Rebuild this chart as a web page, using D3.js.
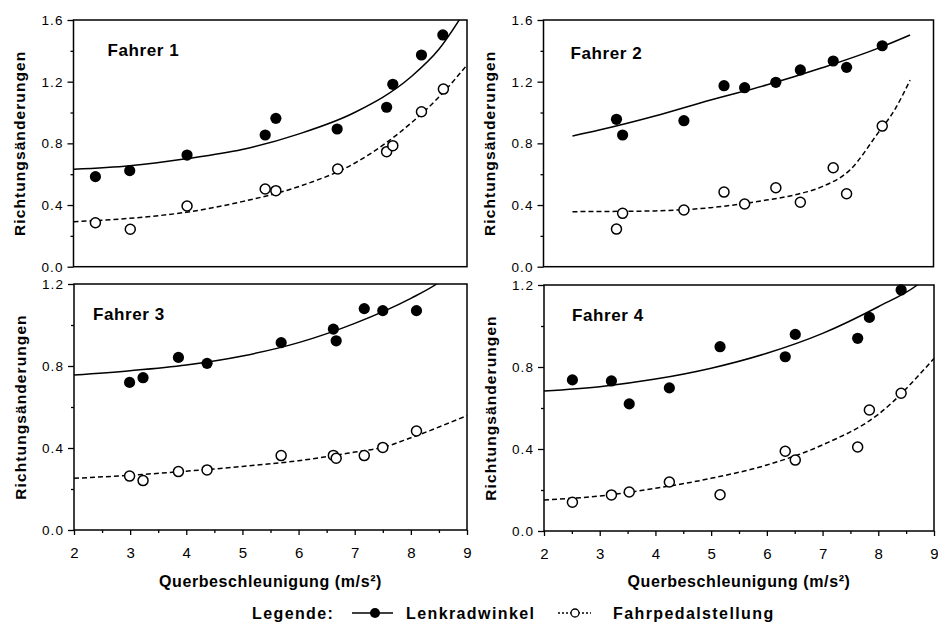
<!DOCTYPE html>
<html>
<head>
<meta charset="utf-8">
<script src="https://cdn.jsdelivr.net/npm/d3@7"></script>
<style>
  body { margin: 0; background: #fff; }
  svg { display: block; }
  text { font-family: "Liberation Sans", Arial, sans-serif; fill: #000; }
</style>
</head>
<body>
<svg width="938" height="623"></svg>
<script>
// panel titles and axis ranges
const drivers = ["Fahrer 1", "Fahrer 2", "Fahrer 3", "Fahrer 4"];
const yMax = [1.6, 1.6, 1.2, 1.2];
const xTicks = [2, 3, 4, 5, 6, 7, 8, 9];

// measured points: [Querbeschleunigung, Richtungsänderungen]
const lenk1 = [[2.39,0.584],[3.0,0.623],[4.02,0.724],[5.41,0.854],[5.60,0.962],[6.69,0.893],[7.57,1.034],[7.68,1.183],[8.19,1.373],[8.57,1.503]];
const pedal1 = [[2.39,0.285],[3.01,0.243],[4.02,0.394],[5.41,0.504],[5.60,0.493],[6.70,0.634],[7.57,0.746],[7.68,0.785],[8.19,1.005],[8.58,1.152]];
const lenk2 = [[3.31,0.956],[3.42,0.854],[4.52,0.947],[5.24,1.174],[5.61,1.161],[6.17,1.196],[6.61,1.276],[7.20,1.334],[7.44,1.293],[8.08,1.433]];
const pedal2 = [[3.31,0.244],[3.42,0.346],[4.52,0.368],[5.24,0.484],[5.61,0.407],[6.17,0.512],[6.61,0.418],[7.20,0.642],[7.44,0.473],[8.08,0.912]];
const lenk3 = [[2.99,0.720],[3.23,0.743],[3.86,0.842],[4.37,0.813],[5.69,0.914],[6.62,0.980],[6.67,0.923],[7.17,1.080],[7.50,1.070],[8.10,1.070]];
const pedal3 = [[2.99,0.263],[3.23,0.241],[3.86,0.285],[4.37,0.293],[5.69,0.363],[6.62,0.364],[6.67,0.350],[7.17,0.363],[7.50,0.403],[8.10,0.483]];
const lenk4 = [[2.51,0.737],[3.21,0.732],[3.53,0.620],[4.25,0.698],[5.16,0.899],[6.33,0.850],[6.51,0.959],[7.63,0.940],[7.84,1.042],[8.41,1.176]];
const pedal4 = [[2.51,0.140],[3.21,0.176],[3.53,0.190],[4.25,0.239],[5.16,0.177],[6.33,0.389],[6.51,0.346],[7.63,0.410],[7.84,0.590],[8.41,0.672]];

// fitted trend curves
const lenkFit1 = [[2,0.632],[3,0.655],[4,0.70],[5,0.76],[6,0.86],[7,1.0],[8,1.23],[8.5,1.41],[9,1.68]];
const pedalFit1 = [[2,0.292],[3,0.314],[4,0.353],[5,0.422],[6,0.519],[7,0.671],[8,0.93],[8.5,1.10],[9,1.308]];
const lenkFit2 = [[2.52,0.848],[3,0.886],[4,0.977],[5,1.081],[6,1.178],[7,1.29],[8,1.416],[8.58,1.503]];
const pedalFit2 = [[2.52,0.357],[3,0.358],[4,0.362],[5,0.383],[6,0.432],[6.5,0.465],[7,0.519],[7.5,0.627],[8,0.865],[8.3,1.016],[8.58,1.21]];
const lenkFit3 = [[2,0.756],[3,0.777],[4,0.805],[5,0.849],[6,0.914],[7,1.008],[8,1.13],[8.46,1.2],[9,1.32]];
const pedalFit3 = [[2,0.252],[3,0.267],[4,0.287],[5,0.31],[6,0.338],[7,0.38],[7.5,0.403],[8,0.45],[9,0.558]];
const lenkFit4 = [[2,0.683],[3,0.704],[4,0.741],[5,0.794],[6,0.867],[7,0.964],[8,1.094],[8.7,1.2],[9,1.27]];
const pedalFit4 = [[2,0.151],[3,0.171],[4,0.208],[5,0.257],[6,0.322],[7,0.42],[8,0.569],[9,0.842]];

const lenkSets = [lenk1, lenk2, lenk3, lenk4];
const pedalSets = [pedal1, pedal2, pedal3, pedal4];
const lenkFits = [lenkFit1, lenkFit2, lenkFit3, lenkFit4];
const pedalFits = [pedalFit1, pedalFit2, pedalFit3, pedalFit4];

// panel boxes in pixels
const boxes = [
  { l: 73.5, r: 467, t: 20, b: 266.7, lx: 34, ly: 56, xAxis: false },
  { l: 543.5, r: 933.5, t: 20, b: 266.7, lx: 27, ly: 59, xAxis: false },
  { l: 74, r: 467, t: 284, b: 530, lx: 19, ly: 320, xAxis: true },
  { l: 544, r: 934, t: 285, b: 531, lx: 28, ly: 321, xAxis: true }
];

const svg = d3.select("svg");
svg.append("rect").attr("width", 938).attr("height", 623).attr("fill", "#fff");

boxes.forEach((p, i) => {
  const x = d3.scaleLinear().domain([2, 9]).range([p.l, p.r]);
  const y = d3.scaleLinear().domain([0, yMax[i]]).range([p.b, p.t]);
  const g = svg.append("g");

  const clipId = "clip" + i;
  svg.append("clipPath").attr("id", clipId)
    .append("rect").attr("x", p.l).attr("y", p.t)
    .attr("width", p.r - p.l).attr("height", p.b - p.t);

  // y axis: major ticks with labels, minor ticks between
  const major = d3.range(0, yMax[i] + 0.01, 0.4);
  const minor = d3.range(0.2, yMax[i], 0.4);
  g.append("g").attr("transform", `translate(${p.l},0)`)
    .call(d3.axisLeft(y).tickValues(minor).tickSize(3).tickFormat(""))
    .call(a => a.select(".domain").remove());
  g.append("g").attr("transform", `translate(${p.l},0)`)
    .call(d3.axisLeft(y).tickValues(major).tickSize(6).tickPadding(4).tickFormat(d3.format(".1f")))
    .call(a => a.select(".domain").remove())
    .call(a => a.selectAll("text")
      .style("font-size", "13.5px").style("letter-spacing", "1.1px")
      .style("font-family", "Liberation Sans, Arial, sans-serif"));
  g.selectAll(".tick line").attr("stroke", "#000").attr("stroke-width", 1.3);

  if (p.xAxis) {
    g.append("g").attr("transform", `translate(0,${p.b})`)
      .call(d3.axisBottom(x).tickValues(d3.range(2.5, 9, 1)).tickSize(3).tickFormat(""))
      .call(a => a.select(".domain").remove());
    g.append("g").attr("transform", `translate(0,${p.b})`)
      .call(d3.axisBottom(x).tickValues(xTicks).tickSize(5).tickPadding(12).tickFormat(d3.format("d")))
      .call(a => a.select(".domain").remove())
      .call(a => a.selectAll("text")
        .style("font-size", "15px")
        .style("font-family", "Liberation Sans, Arial, sans-serif"));
    g.selectAll(".tick line").attr("stroke", "#000").attr("stroke-width", 1.3);

    g.append("text")
      .attr("x", (p.l + p.r) / 2).attr("y", 587)
      .attr("text-anchor", "middle")
      .style("font-size", "16px").style("font-weight", "bold").style("letter-spacing", "0.6px")
      .text("Querbeschleunigung (m/s²)");
  }

  // frame
  g.append("rect")
    .attr("x", p.l).attr("y", p.t)
    .attr("width", p.r - p.l).attr("height", p.b - p.t)
    .attr("fill", "none").attr("stroke", "#000").attr("stroke-width", 1.5);

  // y title
  g.append("text")
    .attr("transform", `translate(${p.l - 53},${(p.t + p.b) / 2}) rotate(-90)`)
    .attr("dy", "0.3em")
    .attr("text-anchor", "middle")
    .style("font-size", "15.5px").style("font-weight", "bold").style("letter-spacing", "1.1px")
    .text("Richtungsänderungen");

  // driver label
  g.append("text")
    .attr("x", p.l + p.lx).attr("y", p.ly)
    .style("font-size", "17px").style("font-weight", "bold").style("letter-spacing", "0.6px")
    .text(drivers[i]);

  const line = d3.line()
    .x(d => x(d[0])).y(d => y(d[1]))
    .curve(d3.curveMonotoneX);

  const curves = g.append("g").attr("clip-path", `url(#${clipId})`);
  curves.append("path").datum(lenkFits[i])
    .attr("d", line).attr("fill", "none")
    .attr("stroke", "#000").attr("stroke-width", 1.5);
  curves.append("path").datum(pedalFits[i])
    .attr("d", line).attr("fill", "none")
    .attr("stroke", "#000").attr("stroke-width", 1.5)
    .attr("stroke-dasharray", "5,3");

  g.append("g").selectAll("circle")
    .data(pedalSets[i]).join("circle")
    .attr("cx", d => x(d[0])).attr("cy", d => y(d[1]))
    .attr("r", 5).attr("fill", "#fff")
    .attr("stroke", "#000").attr("stroke-width", 1.5);

  g.append("g").selectAll("circle")
    .data(lenkSets[i]).join("circle")
    .attr("cx", d => x(d[0])).attr("cy", d => y(d[1]))
    .attr("r", 5.6).attr("fill", "#000");
});

// legend
const leg = svg.append("g");
const legY = 613;
leg.append("text").attr("x", 252).attr("y", legY + 6)
  .style("font-size", "16px").style("font-weight", "bold").style("letter-spacing", "1.4px")
  .text("Legende:");
leg.append("line").attr("x1", 352).attr("x2", 393).attr("y1", legY).attr("y2", legY)
  .attr("stroke", "#000").attr("stroke-width", 1.5);
leg.append("circle").attr("cx", 375).attr("cy", legY).attr("r", 5).attr("fill", "#000");
leg.append("text").attr("x", 406).attr("y", legY + 6)
  .style("font-size", "16px").style("font-weight", "bold").style("letter-spacing", "1.4px")
  .text("Lenkradwinkel");
leg.append("line").attr("x1", 558).attr("x2", 591).attr("y1", legY).attr("y2", legY)
  .attr("stroke", "#000").attr("stroke-width", 1.3).attr("stroke-dasharray", "2,2");
leg.append("circle").attr("cx", 575).attr("cy", legY).attr("r", 4)
  .attr("fill", "#fff").attr("stroke", "#000").attr("stroke-width", 1.3);
leg.append("text").attr("x", 613).attr("y", legY + 6)
  .style("font-size", "16px").style("font-weight", "bold").style("letter-spacing", "1.4px")
  .text("Fahrpedalstellung");
</script>
</body>
</html>
